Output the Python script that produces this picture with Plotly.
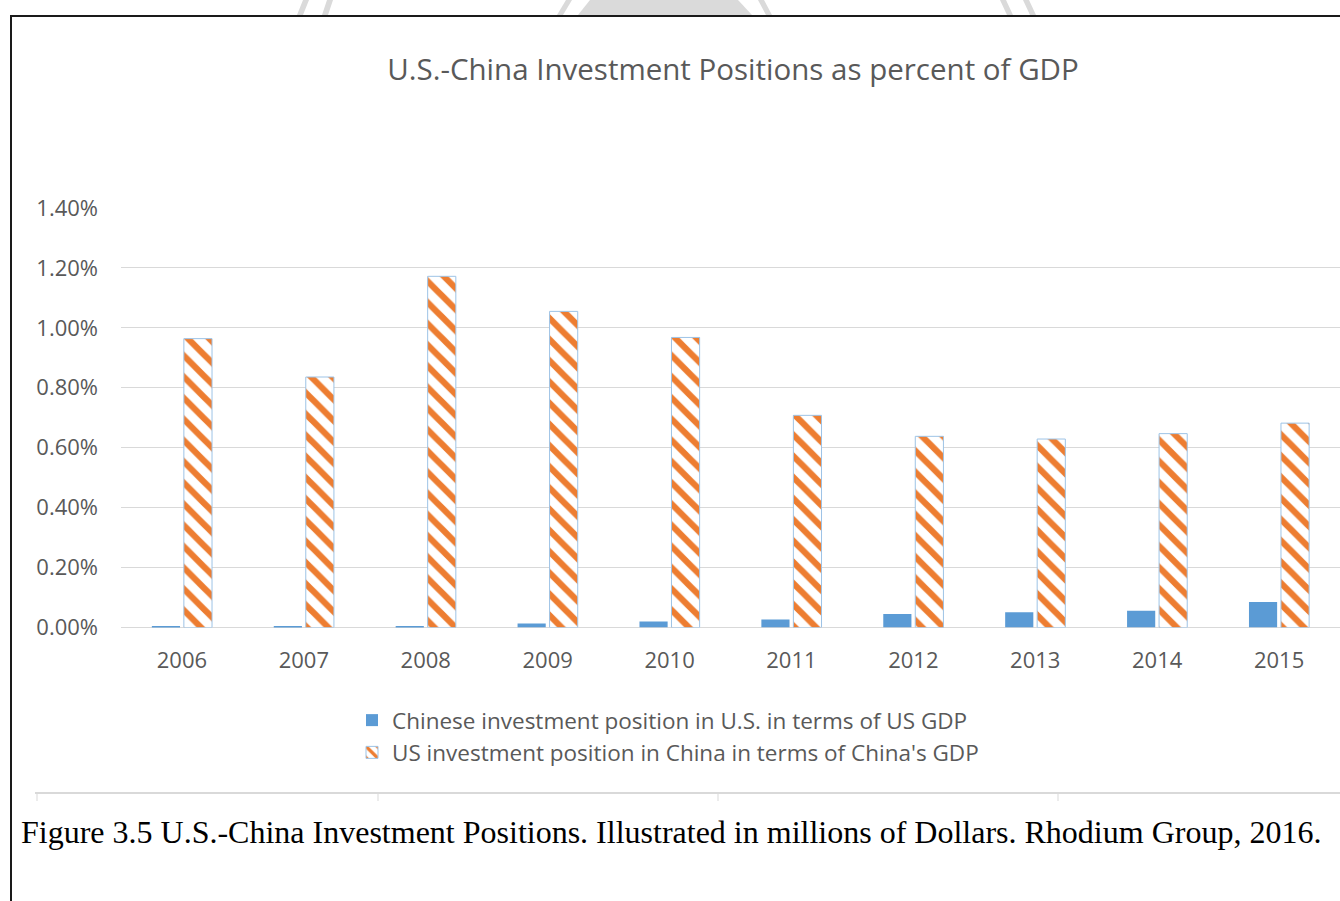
import plotly.graph_objects as go

# Investment positions, expressed as percent of the host economy's GDP
years = ["2006", "2007", "2008", "2009", "2010", "2011", "2012", "2013", "2014", "2015"]
china_in_us_pct = [0.005, 0.005, 0.005, 0.013, 0.020, 0.027, 0.045, 0.051, 0.056, 0.085]
us_in_china_pct = [0.964, 0.836, 1.172, 1.055, 0.968, 0.708, 0.638, 0.629, 0.647, 0.682]

series_names = [
    "Chinese investment position in U.S. in terms of US GDP",
    "US investment position in China in terms of China's GDP",
]
y_ticks = [0.0, 0.2, 0.4, 0.6, 0.8, 1.0, 1.2, 1.4]
y_tick_text = [f"{v:.2f}%" for v in y_ticks]

W, H = 1340, 901
GREY_TEXT = "#595959"
GRID = "#D9D9D9"
BLUE = "#5B9BD5"
ORANGE = "#ED7D31"
OUTLINE = "#9DC3E6"
SANS = "Open Sans"


def px(x):
    return x / W


def py(y):
    return 1 - y / H


fig = go.Figure()
fig.add_trace(go.Bar(
    x=years, y=china_in_us_pct, name=series_names[0],
    marker=dict(color=BLUE, line=dict(width=0)),
))
fig.add_trace(go.Bar(
    x=years, y=us_in_china_pct, name=series_names[1],
    marker=dict(
        color="white",
        line=dict(color=OUTLINE, width=1),
        pattern=dict(shape="\\", fgcolor=ORANGE, bgcolor="white",
                     size=15, solidity=0.42, fillmode="replace"),
    ),
))

shapes = []
# page frame
shapes.append(dict(type="line", xref="paper", yref="paper",
                   x0=px(10), x1=1.0, y0=py(16), y1=py(16),
                   line=dict(color="#1a1a1a", width=2)))
shapes.append(dict(type="line", xref="paper", yref="paper",
                   x0=px(11), x1=px(11), y0=py(16), y1=0,
                   line=dict(color="#1a1a1a", width=2)))
# faint watermark pieces above the frame
wm = "#DADADA"
for path in [
    "M 303 0 L 309 0 L 303 15 L 297 15 Z",
    "M 327 0 L 333 0 L 328 15 L 322 15 Z",
    "M 590 0 L 738 0 L 752 15 L 578 15 Z",
    "M 566 0 L 572 0 L 563 15 L 557 15 Z",
    "M 758 0 L 764 0 L 772 15 L 766 15 Z",
    "M 1000 0 L 1006 0 L 1013 15 L 1007 15 Z",
    "M 1023 0 L 1029 0 L 1036 15 L 1030 15 Z",
]:
    pts = path.replace("M", "").replace("Z", "").split("L")
    conv = []
    for p in pts:
        a, b = p.split()
        conv.append(f"{px(float(a)):.5f},{py(float(b)):.5f}")
    shapes.append(dict(type="path", xref="paper", yref="paper",
                       path="M " + " L ".join(conv) + " Z",
                       fillcolor=wm, line=dict(width=0), layer="below"))
# table rule beneath the chart with its column ticks
shapes.append(dict(type="line", xref="paper", yref="paper",
                   x0=px(35), x1=1.0, y0=py(793), y1=py(793),
                   line=dict(color=GRID, width=2)))
for xt in [37, 378, 718, 1058]:
    shapes.append(dict(type="line", xref="paper", yref="paper",
                       x0=px(xt), x1=px(xt), y0=py(793), y1=py(801),
                       line=dict(color=GRID, width=1)))

fig.update_layout(
    width=W, height=H,
    margin=dict(l=0, r=0, t=0, b=0, autoexpand=False),
    paper_bgcolor="white", plot_bgcolor="white",
    barmode="group", bargap=0.475, bargroupgap=0.12,
    font=dict(family=SANS, color=GREY_TEXT),
    title=dict(text="U.S.-China Investment Positions as percent of GDP",
               x=px(733), xanchor="center", y=py(70), yanchor="middle",
               font=dict(family=SANS, size=29.5, color=GREY_TEXT)),
    xaxis=dict(type="category", domain=[px(121), 1.0], range=[-0.5, 9.5],
               automargin=False,
               showgrid=False, showline=False, zeroline=False, ticks="",
               tickfont=dict(size=22, color=GREY_TEXT), ticklabelstandoff=17),
    yaxis=dict(domain=[py(627.5), py(208)], range=[0, 1.4],
               automargin=False,
               tickmode="array", tickvals=y_ticks, ticktext=y_tick_text,
               showgrid=True, gridcolor=GRID, gridwidth=1,
               zeroline=True, zerolinecolor=GRID, zerolinewidth=1,
               showline=False, ticks="",
               tickfont=dict(size=22, color=GREY_TEXT), ticklabelstandoff=22),
    legend=dict(x=px(352), xanchor="left", y=py(699), yanchor="top",
                orientation="v", font=dict(size=22.5, color=GREY_TEXT),
                itemwidth=30, tracegroupgap=0, bgcolor="rgba(0,0,0,0)"),
    shapes=shapes,
    annotations=[dict(
        text="Figure 3.5 U.S.-China Investment Positions. Illustrated in millions of Dollars. Rhodium Group, 2016.",
        xref="paper", yref="paper", x=px(19), y=py(832),
        xanchor="left", yanchor="middle", showarrow=False,
        font=dict(family="Liberation Serif", size=32, color="black"),
    )],
)

fig.write_html("out.html")
